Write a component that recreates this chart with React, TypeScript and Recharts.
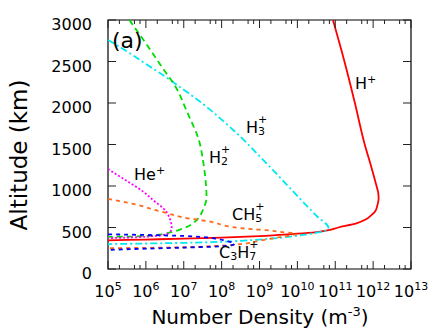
import { LineChart, Line, XAxis, YAxis, ReferenceArea } from "recharts";

// [number density (m^-3), altitude (km)]
const hPlus: Array<[number, number]> = [
  [1e5, 345], [1e6, 355], [1e7, 365], [1e8, 378], [1e9, 395], [3.2e9, 410],
  [1e10, 425], [3.2e10, 445], [6.3e10, 465], [1.2e11, 500], [3.6e11, 550],
  [6.5e11, 600], [9e11, 650], [1.15e12, 700], [1.3e12, 770], [1.4e12, 850],
  [1.35e12, 930], [1.23e12, 1000], [8.7e11, 1250], [6e11, 1500],
  [3.3e11, 2000], [1.75e11, 2500], [8.7e10, 3000],
];

const h3Plus: Array<[number, number]> = [
  [1e5, 2760], [3.2e5, 2620], [1e6, 2470], [3.2e6, 2320], [1e7, 2160],
  [3.2e7, 1990], [1e8, 1800], [3.2e8, 1590], [1e9, 1360], [3.2e9, 1120],
  [1e10, 880], [3.2e10, 640], [6.6e10, 495], [6.3e10, 470], [3.5e10, 440],
  [2e10, 420], [1e10, 400], [3.2e9, 375], [1e9, 355], [3.2e8, 340],
  [1e8, 328], [1e7, 315], [1e6, 307], [1e5, 300],
];

const h2Plus: Array<[number, number]> = [
  [3.65e5, 3000], [7e5, 2819], [1.32e6, 2639], [2.75e6, 2422], [5.7e6, 2217],
  [1.26e7, 1880], [2.5e7, 1554], [3.3e7, 1277], [3.8e7, 1050], [4e7, 867],
  [3.2e7, 711], [2.2e7, 590], [9.8e6, 490], [3.5e6, 430], [2e6, 410],
  [1e6, 397], [3.2e5, 390], [1e5, 387],
];

const hePlus: Array<[number, number]> = [
  [1e5, 1205], [1.8e5, 1130], [3.4e5, 1052], [8.5e5, 931], [1.74e6, 811],
  [2.9e6, 731], [3.9e6, 651], [4.4e6, 590], [4.8e6, 510], [4.4e6, 450],
  [2.9e6, 410], [1.74e6, 398], [1e6, 388], [3.2e5, 378], [1e5, 372],
];

const ch5Plus: Array<[number, number]> = [
  [1e5, 845], [3.2e5, 800], [1e6, 745], [1.74e6, 711], [3.2e6, 680],
  [1.3e7, 611], [2.7e7, 590], [5e7, 570], [2e8, 505], [6.3e8, 480],
  [1.5e9, 468], [4e9, 445], [9.5e9, 422], [3.2e9, 382], [1e9, 340],
  [3.2e8, 300], [6.3e7, 277], [1e7, 262], [1e6, 255], [1e5, 250],
];

const c3h7Plus: Array<[number, number]> = [
  [1e5, 418], [1e6, 410], [1e7, 398], [3.2e7, 385], [6.3e7, 370],
  [1.26e8, 340], [2.2e8, 305], [2e8, 290], [1e8, 275], [5e7, 268],
  [1e7, 258], [1e6, 245], [1e5, 230],
];

const decades = [5, 6, 7, 8, 9, 10, 11, 12, 13];
const minorSteps = [2, 5, 7];
const yTicks = [0, 500, 1000, 1500, 2000, 2500, 3000];

const xTicks: number[] = [];
decades.forEach((d) => {
  xTicks.push(Math.pow(10, d));
  if (d < 13) minorSteps.forEach((m) => xTicks.push(m * Math.pow(10, d)));
});

const toRows = (pts: Array<[number, number]>) =>
  pts.map(([n, alt]) => ({ n, alt }));

const FONT = "DejaVu Sans, Liberation Sans, sans-serif";
const PLOT = { left: 108, right: 411, top: 20, bottom: 269 };

const XTick = (props: any) => {
  const { x, payload } = props;
  const lg = Math.log10(payload.value);
  const exp = Math.round(lg);
  const major = Math.abs(lg - exp) < 1e-6;
  const len = major ? 8 : 4;
  return (
    <g>
      <line x1={x} x2={x} y1={PLOT.bottom} y2={PLOT.bottom - len} stroke="#222" />
      <line x1={x} x2={x} y1={PLOT.top} y2={PLOT.top + len} stroke="#222" />
      {major && (
        <text x={x} y={297} textAnchor="middle" fontFamily={FONT} fontSize={16} fill="#000">
          10
          <tspan dy={-7} fontSize={11}>
            {exp}
          </tspan>
        </text>
      )}
    </g>
  );
};

const YTick = (props: any) => {
  const { y, payload } = props;
  return (
    <g>
      <line x1={PLOT.left} x2={PLOT.left + 8} y1={y} y2={y} stroke="#222" />
      <line x1={PLOT.right - 8} x2={PLOT.right} y1={y} y2={y} stroke="#222" />
      <text x={92} y={y + 10} textAnchor="end" fontFamily={FONT} fontSize={16} fill="#000">
        {payload.value}
      </text>
    </g>
  );
};

// density is a function of altitude, so every profile is monotone in y
const series = [
  { name: "H+", data: hPlus, color: "#ff0000", dash: undefined },
  { name: "H3+", data: h3Plus, color: "#00e8f0", dash: "7 3 2 3" },
  { name: "H2+", data: h2Plus, color: "#00dd00", dash: "6 4" },
  { name: "He+", data: hePlus, color: "#ff00ff", dash: "2 2" },
  { name: "CH5+", data: ch5Plus, color: "#ff6a1a", dash: "4 4" },
  { name: "C3H7+", data: c3h7Plus, color: "#0000ff", dash: "4 4" },
];

const Labels = () => (
  <svg
    width={441}
    height={328}
    style={{ position: "absolute", left: 0, top: 0, pointerEvents: "none" }}
    fontFamily={FONT}
  >
    <text x={112} y={48} fontSize={22}>(a)</text>
    <text x={355} y={89} fontSize={16}>
      H<tspan dy={-6} fontSize={11}>+</tspan>
    </text>
    <text x={246} y={133} fontSize={16}>
      H<tspan dy={2} fontSize={11}>3</tspan>
      <tspan dx={-7} dy={-12} fontSize={11}>+</tspan>
    </text>
    <text x={209} y={163} fontSize={16}>
      H<tspan dy={2} fontSize={11}>2</tspan>
      <tspan dx={-7} dy={-12} fontSize={11}>+</tspan>
    </text>
    <text x={134} y={180} fontSize={16}>
      He<tspan dy={-6} fontSize={11}>+</tspan>
    </text>
    <text x={232} y={220} fontSize={16}>
      CH<tspan dy={2} fontSize={11}>5</tspan>
      <tspan dx={-7} dy={-12} fontSize={11}>+</tspan>
    </text>
    <text x={219} y={258} fontSize={16}>
      C<tspan dy={2} fontSize={11}>3</tspan>
      <tspan dy={-2}>H</tspan>
      <tspan dy={2} fontSize={11}>7</tspan>
      <tspan dx={-7} dy={-12} fontSize={11}>+</tspan>
    </text>
    <text x={260} y={324} fontSize={20} textAnchor="middle">
      Number Density (m<tspan dy={-8} fontSize={13}>-3</tspan>
      <tspan dy={8}>)</tspan>
    </text>
    <text
      x={27}
      y={155}
      fontSize={23}
      textAnchor="middle"
      transform="rotate(-90 27 155)"
    >
      Altitude (km)
    </text>
  </svg>
);

export default function App() {
  return (
    <div style={{ position: "absolute", left: 0, top: 0, width: 441, height: 328, background: "#fff" }}>
      <LineChart
        width={441}
        height={328}
        margin={{ top: 20, right: 30, bottom: 0, left: 0 }}
      >
        <XAxis
          dataKey="n"
          type="number"
          scale="log"
          domain={[1e5, 1e13]}
          ticks={xTicks}
          interval={0}
          allowDataOverflow
          height={59}
          tickLine={false}
          axisLine={false}
          tick={(p: any) => <XTick {...p} />}
        />
        <YAxis
          type="number"
          domain={[0, 3000]}
          ticks={yTicks}
          interval={0}
          width={108}
          tickLine={false}
          axisLine={false}
          tick={(p: any) => <YTick {...p} />}
        />
        {series.map((s) => (
          <Line
            key={s.name}
            data={toRows(s.data)}
            dataKey="alt"
            type="monotoneY"
            stroke={s.color}
            strokeWidth={1.8}
            strokeDasharray={s.dash}
            dot={false}
            activeDot={false}
            isAnimationActive={false}
          />
        ))}
        <ReferenceArea
          x1={1e5}
          x2={1e13}
          y1={0}
          y2={3000}
          fill="none"
          stroke="#000"
          strokeWidth={1.2}
          ifOverflow="visible"
        />
      </LineChart>
      <Labels />
    </div>
  );
}
